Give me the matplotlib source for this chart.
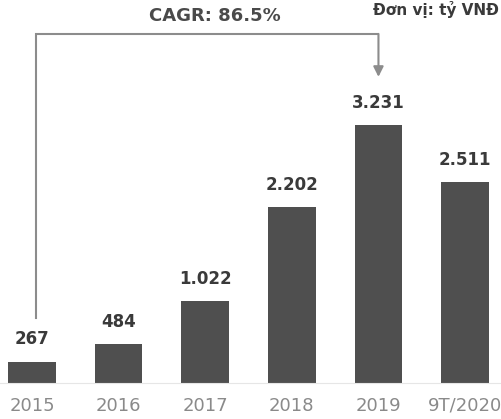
import matplotlib.pyplot as plt
import numpy as np

# doanh thu theo năm, tỷ VND
years = ["2015", "2016", "2017", "2018", "2019", "9T/2020"]
revenue = [267, 484, 1022, 2202, 3231, 2511]
value_labels = ["267", "484", "1.022", "2.202", "3.231", "2.511"]
cagr_text = "CAGR: 86.5%"
unit_text = "Đơn vị: tỷ VNĐ"

x = np.arange(len(years))

fig = plt.figure(figsize=(5.01, 4.19), dpi=100)
ax = fig.add_axes([0, 36 / 419, 1, 383 / 419])

ax.bar(x, revenue, width=0.55, color="#4f4f4f", zorder=2)

for xi, v, lab in zip(x, revenue, value_labels):
    ax.annotate(lab, (xi, v), xytext=(0, 16), textcoords="offset points",
                ha="center", va="center", fontsize=12, fontweight="bold",
                color="#3a3a3a")

# đường CAGR từ 2015 tới 2019
top = 4368
ax.plot([x[0] + 0.05, x[0] + 0.05, x[4]], [revenue[0] + 546, top, top],
        color="#8c8c8c", lw=1.5, solid_joinstyle="miter")
ax.annotate("", xy=(x[4], revenue[4] + 600), xytext=(x[4], top),
            arrowprops=dict(arrowstyle="-|>,head_length=0.6,head_width=0.3",
                            color="#8c8c8c", lw=1.5, shrinkA=0, shrinkB=0))
ax.text((x[0] + x[4]) / 2 + 0.11, top + 230, cagr_text, ha="center",
        va="center", fontsize=13, fontweight="bold", color="#4a4a4a")

ax.set_xlim(-0.37, 5.415)
ax.set_ylim(0, 4793)
ax.set_xticks(x)
ax.set_xticklabels(years, fontsize=13, color="#8a8a8a")
ax.tick_params(axis="x", length=0, pad=10)
ax.set_yticks([])
for s in ["top", "left", "right"]:
    ax.spines[s].set_visible(False)
ax.spines["bottom"].set_color("#e6e6e6")

fig.text(0.995, 0.998, unit_text, ha="right", va="top",
         fontsize=11, fontweight="bold", color="#3a3a3a")

fig.savefig("out.png", dpi=100)
